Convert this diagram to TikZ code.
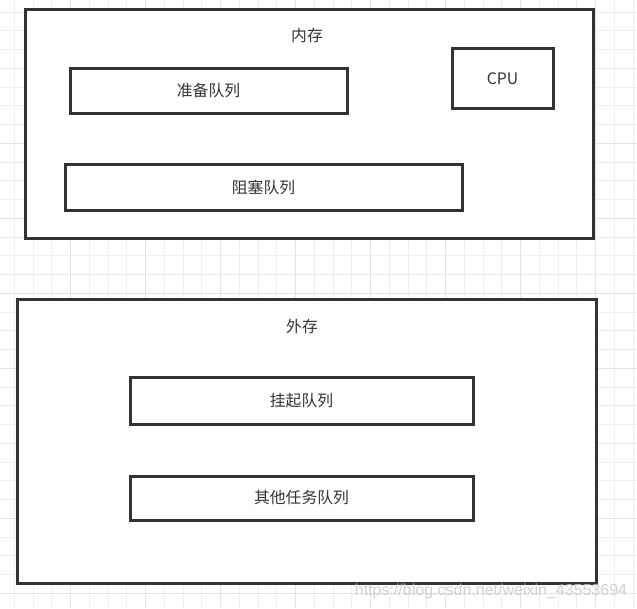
\documentclass[tikz,border=0pt]{standalone}
\usepackage{fontspec}
\newfontfamily\cjk{Noto Sans CJK SC}
\newfontfamily\wmfont{Liberation Sans}
\definecolor{ink}{HTML}{333333}
\definecolor{gridminor}{HTML}{EEEEEE}
\definecolor{gridmajor}{HTML}{E2E2E2}
\tikzset{
  box/.style={draw=ink, line width=3pt, fill=white, inner sep=0pt, outer sep=0pt},
  lbl/.style={text=ink, font=\cjk\fontsize{15.8}{16}\selectfont, inner sep=0pt},
}
\begin{document}
\begin{tikzpicture}[x=1pt,y=-1pt]
\useasboundingbox (0,0) rectangle (637,608);
\fill[white] (0,0) rectangle (637,608);
% grid
\foreach \i in {0,...,35} {
  \pgfmathsetmacro\xx{-4.3+18.75*\i}
  \pgfmathsetmacro\yy{12.05+18.75*\i}
  \ifnum\i>0 \draw[gridminor, line width=1pt] (\xx,0) -- (\xx,608); \fi
  \draw[gridminor, line width=1pt] (0,\yy) -- (637,\yy);
}
\foreach \i in {1,...,9} {
  \pgfmathsetmacro\xx{-4.3+75*\i}
  \pgfmathsetmacro\yy{-6.7+75*\i}
  \draw[gridmajor, line width=1pt] (\xx,0) -- (\xx,608);
  \draw[gridmajor, line width=1pt] (0,\yy) -- (637,\yy);
}
% 内存
\node[box, minimum width=568pt, minimum height=229pt] (mem) at (309,123.5) {};
\node[lbl] (memlbl) at (307,36) {内存};
\node[box, minimum width=277pt, minimum height=45pt, lbl] (ready) at (208.5,91) {准备队列};
\node[box, minimum width=101pt, minimum height=60pt, lbl] (cpu) at (502.5,78.5) {CPU};
\node[box, minimum width=397pt, minimum height=46pt, lbl] (block) at (263.5,187.5) {阻塞队列};
% 外存
\node[box, minimum width=579pt, minimum height=284pt] (ext) at (306.5,441) {};
\node[lbl] (extlbl) at (302,326) {外存};
\node[box, minimum width=343pt, minimum height=47pt, lbl] (susp) at (301.5,400.5) {挂起队列};
\node[box, minimum width=343pt, minimum height=44pt, lbl] (other) at (301.5,498) {其他任务队列};
% watermark
\node[text=black!22, opacity=0.8, font=\wmfont\fontsize{16}{16}\selectfont, inner sep=0pt] (wm) at (491,591) {https://blog.csdn.net/weixin\_43553694};
\end{tikzpicture}
\end{document}
